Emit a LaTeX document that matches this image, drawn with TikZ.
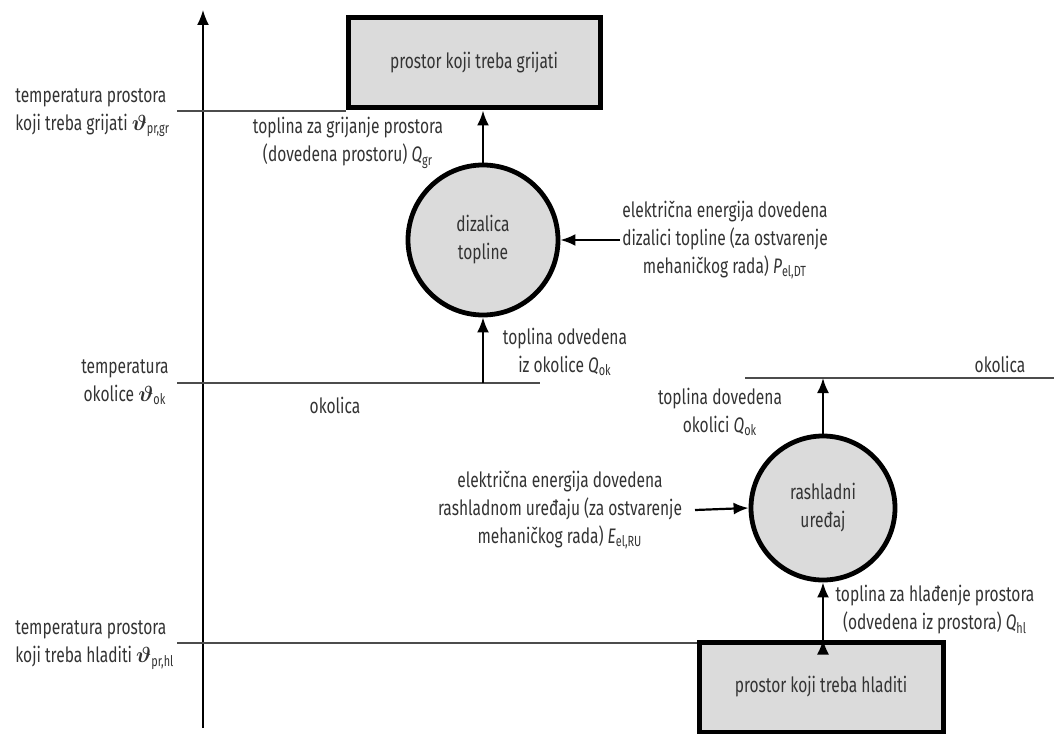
\documentclass[tikz,border=0pt]{standalone}
\usepackage{fontspec}
\setmainfont[FakeStretch=0.74]{Fira Sans}
\usepackage{amsmath}
\usetikzlibrary{positioning,arrows.meta}

\begin{document}
\begin{tikzpicture}[x=0.5pt, y=-0.5pt,
        every node/.style={text=black!80, font=\fontsize{10.5}{14}\selectfont},
        prostor/.style={draw=black, line width=2.5pt, fill=gray!28, minimum width=126pt, minimum height=45pt},
        uredaj/.style={circle, draw=black, line width=2.4pt, fill=gray!28, align=center},
        tok/.style={-{Latex[length=7.5pt,width=6pt]}, line width=1.1pt},
        razina/.style={line width=0.6pt, black!70},
        opis/.style={align=center, inner sep=0pt}]
        \useasboundingbox (0,0) rectangle (1054,733);
        % os temperature
        \coordinate (os0) at (203,728);
        \coordinate (os1) at (203,10);
        \draw[tok, line width=0.8pt] (os0) -- (os1);
        % dizalica topline
        \node[prostor](grij) at (474,63){prostor koji treba grijati};
        \node[uredaj, minimum size=75pt](dt) at (483,240){dizalica\\topline};
        \coordinate (elDT) at (620,240);
        \coordinate (okDT) at (483,383);
        % rashladni uredaj
        \node[uredaj, minimum size=72pt](ru) at (823,508){rashladni\\uređaj};
        \node[prostor, minimum width=122pt](hlad) at (821,687){prostor koji treba hladiti};
        \coordinate (elRU) at (695,510);
        \coordinate (okRU) at (745,378);
        % razine
        \coordinate (grL) at (177,111);
        \coordinate (okL) at (177,383);
        \coordinate (hlL) at (177,643);
        \draw[razina] (grL) -- (grL -| grij.west);
        \draw[razina] (okL) -- (540,383);
        \draw[razina] (okRU) -- (1054,378);
        \draw[razina] (hlL) -- (hlL -| hlad.west);
        \draw[tok]
        (dt.north) edge (dt.north |- grij.south)
        (elDT) edge (dt.east)
        (okDT) edge (dt.south)
        (ru.north) edge (ru.north |- okRU)
        (elRU) edge (ru.west)
        (ru.south |- hlad.north) edge (ru.south)
        ;
        % opisi
        \node[opis, align=left, anchor=west](tgr) at (15,113){temperatura prostora\\koji treba grijati $\boldsymbol{\vartheta}$\textsubscript{pr,gr}};
        \node[opis](tok) at (125,382){temperatura\\okolice $\boldsymbol{\vartheta}$\textsubscript{ok}};
        \node[opis, align=left, anchor=west](thl) at (15,645){temperatura prostora\\koji treba hladiti $\boldsymbol{\vartheta}$\textsubscript{pr,hl}};
        \node[opis](qgr) at (348,143){toplina za grijanje prostora\\(dovedena prostoru) \textit{Q}\textsubscript{gr}};
        \node[opis](pdt) at (725,240){električna energija dovedena\\dizalici topline (za ostvarenje\\mehaničkog rada) \textit{P}\textsubscript{el,DT}};
        \node[opis](qok1) at (565,352){toplina odvedena\\iz okolice \textit{Q}\textsubscript{ok}};
        \node[opis](okol1) at (335,405){okolica};
        \node[opis](okol2) at (1000,364){okolica};
        \node[opis](qok2) at (720,412){toplina dovedena\\okolici \textit{Q}\textsubscript{ok}};
        \node[opis](eru) at (560,510){električna energija dovedena\\rashladnom uređaju (za ostvarenje\\mehaničkog rada) \textit{E}\textsubscript{el,RU}};
        \node[opis](qhl) at (935,610){toplina za hlađenje prostora\\(odvedena iz prostora) \textit{Q}\textsubscript{hl}};
    \end{tikzpicture}
\end{document}
